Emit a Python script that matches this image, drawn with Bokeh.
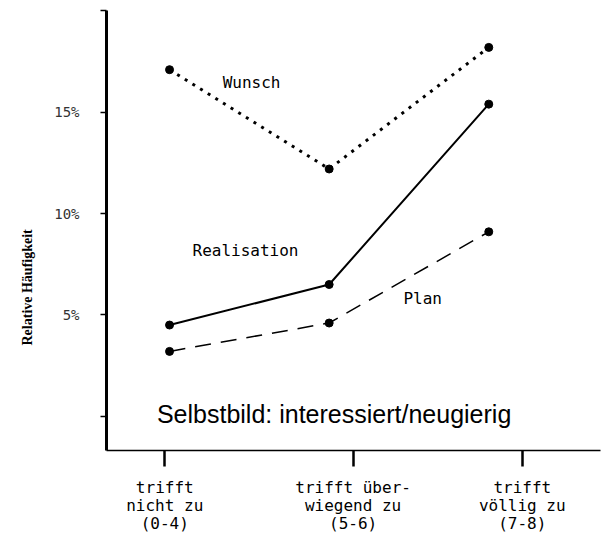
from bokeh.plotting import figure
from bokeh.models import FixedTicker, Label, Title, Range1d
from bokeh.embed import file_html
from bokeh.resources import INLINE

# ---- data ----
categories = ["trifft\nnicht zu\n(0-4)", "trifft über-\nwiegend zu\n(5-6)", "trifft\nvöllig zu\n(7-8)"]
cat_pos = [0, 1, 2]                 # category index of each point
tick_pos = [-0.03, 1.15, 2.21]      # where the category ticks sit on the drawn axis
wunsch = [17.1, 12.2, 18.2]
realisation = [4.5, 6.5, 15.4]
plan = [3.2, 4.6, 9.1]
y_ticks = [0, 5, 10, 15, 20]
y_tick_labels = ["", "5%", "10%", "15%", ""]
y_title = "Relative Häufigkeit"

MONO = "DejaVu Sans Mono"

p = figure(width=605, height=538, output_backend="svg", toolbar_location=None,
           x_range=Range1d(-0.395, 2.70), y_range=Range1d(-1.69, 20.02),
           min_border_left=106, min_border_right=5, min_border_top=10, min_border_bottom=88)
p.xgrid.visible = False
p.ygrid.visible = False
p.outline_line_color = None
p.background_fill_color = "white"
p.border_fill_color = "white"

# y axis
yax = p.yaxis[0]
yax.ticker = FixedTicker(ticks=y_ticks)
yax.major_label_overrides = {t: l for t, l in zip(y_ticks, y_tick_labels)}
yax.axis_line_width = 3
yax.axis_line_color = "black"
yax.major_tick_in = 0
yax.major_tick_out = 6
yax.major_tick_line_width = 1.5
yax.minor_tick_line_color = None
yax.major_label_text_font = MONO
yax.major_label_text_font_size = "14px"
yax.major_label_text_color = "#333333"
yax.major_label_standoff = 21

# x axis
xax = p.xaxis[0]
xax.ticker = FixedTicker(ticks=tick_pos)
xax.major_label_overrides = {t: c for t, c in zip(tick_pos, categories)}
xax.axis_line_width = 1.5
xax.axis_line_color = "black"
xax.major_tick_in = 0
xax.major_tick_out = 16
xax.major_tick_line_width = 2.5
xax.minor_tick_line_color = None
xax.major_label_text_font = MONO
xax.major_label_text_font_size = "16px"
xax.major_label_text_line_height = 0.95
xax.major_label_text_color = "black"
xax.major_label_standoff = 11

# y axis title (reads upwards, left of the tick labels)
p.add_layout(Title(text=y_title, align="left", offset=105,
                   text_font="Liberation Serif", text_font_style="bold",
                   text_font_size="14px", text_color="black", standoff=34), "left")

# series
p.line(cat_pos, wunsch, line_dash="3 6", line_width=3, color="black")
p.scatter(cat_pos, wunsch, size=8, color="black")
p.line(cat_pos, realisation, line_width=2, color="black")
p.scatter(cat_pos, realisation, size=8, color="black")
p.line(cat_pos, plan, line_dash="16 10", line_width=1.5, color="black")
p.scatter(cat_pos, plan, size=8, color="black")

# in-plot labels
for txt, x, y in [("Wunsch", 0.514, 16.47), ("Realisation", 0.476, 8.18), ("Plan", 1.586, 5.81)]:
    p.add_layout(Label(x=x, y=y, text=txt, text_align="center", text_baseline="middle",
                       text_font=MONO, text_font_size="16px", text_color="black"))

p.add_layout(Label(x=1.031, y=0.13, text="Selbstbild: interessiert/neugierig",
                   text_align="center", text_baseline="middle",
                   text_font="Liberation Sans", text_font_size="25px", text_color="black"))

open("out.html", "w").write(file_html(p, INLINE))
